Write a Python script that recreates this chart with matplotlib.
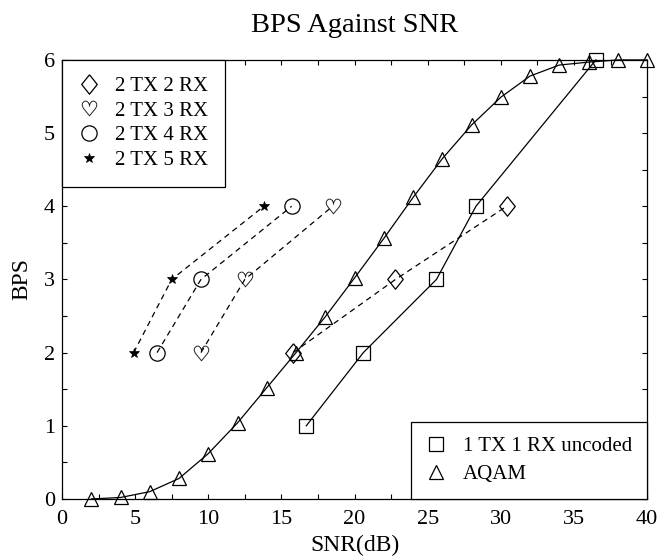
import numpy as np
import matplotlib
matplotlib.use('Agg')
import matplotlib.pyplot as plt
from matplotlib.lines import Line2D
from matplotlib.ticker import MultipleLocator

plt.rcParams['font.family'] = 'Liberation Serif'
plt.rcParams['mathtext.fontset'] = 'dejavusans'

# ---- data ----
aqam_snr = [2, 4, 6, 8, 10, 12, 14, 16, 18, 20, 22, 24, 26, 28, 30, 32, 34, 36, 38, 40]
aqam_bps = [0.0, 0.02, 0.1, 0.28, 0.62, 1.04, 1.52, 2.0, 2.49, 3.02, 3.56, 4.12,
            4.65, 5.11, 5.49, 5.78, 5.93, 5.97, 6.0, 6.0]

unc_snr = [16.7, 20.6, 25.6, 28.3, 36.5]
unc_bps = [1, 2, 3, 4, 6]

rx2_snr = [15.8, 22.8, 30.4]
rx3_snr = [9.5, 12.5, 18.5]
rx4_snr = [6.5, 9.5, 15.7]
rx5_snr = [4.9, 7.5, 13.8]
coded_bps = [2, 3, 4]

# ---- plot ----
fig = plt.figure(figsize=(6.63, 5.6), dpi=100)
ax = fig.add_axes([0.0935, 0.109, 0.8825, 0.784])

diamond = [(0, 1), (0.8, 0), (0, -1), (-0.8, 0), (0, 1)]
dash = (0, (4.5, 3.5))
lw = 0.9

ax.plot(aqam_snr, aqam_bps, '-', color='k', lw=lw, marker='^', ms=10,
        mfc='none', mec='k', mew=lw, clip_on=False, zorder=3)
ax.plot(unc_snr, unc_bps, '-', color='k', lw=lw, marker='s', ms=10,
        mfc='none', mec='k', mew=lw, clip_on=False, zorder=3)
ax.plot(rx2_snr, coded_bps, linestyle=dash, color='k', lw=lw, marker=diamond,
        ms=14, mfc='none', mec='k', mew=lw)
ax.plot(rx3_snr, coded_bps, linestyle=dash, color='k', lw=lw,
        marker=r'$\heartsuit$', ms=11, mfc='none', mec='k', mew=0.3)
ax.plot(rx4_snr, coded_bps, linestyle=dash, color='k', lw=lw, marker='o',
        ms=11, mfc='none', mec='k', mew=lw)
ax.plot(rx5_snr, coded_bps, linestyle=dash, color='k', lw=lw, marker='*',
        ms=7, mfc='k', mec='k', mew=0.5)

ax.set_xlim(0, 40)
ax.set_ylim(0, 6)
ax.xaxis.set_major_locator(MultipleLocator(5))
ax.xaxis.set_minor_locator(MultipleLocator(2.5))
ax.yaxis.set_major_locator(MultipleLocator(1))
ax.yaxis.set_minor_locator(MultipleLocator(0.5))
ax.tick_params(which='both', direction='in', top=True, right=True,
               length=3.6, width=0.8, labelsize=16)
ax.tick_params(axis='x', pad=8)
ax.tick_params(axis='y', pad=5)
for s in ax.spines.values():
    s.set_linewidth(0.9)

ax.set_xlabel('SNR(dB)', fontsize=17, labelpad=4)
ax.set_ylabel('BPS', fontsize=17, labelpad=8)
ax.set_title('BPS Against SNR', fontsize=20.5, pad=20)

# legends: markers only
h1 = [Line2D([], [], ls='none', marker=diamond, ms=14, mfc='none', mec='k', mew=lw),
      Line2D([], [], ls='none', marker=r'$\heartsuit$', ms=11, mfc='none', mec='k', mew=0.3),
      Line2D([], [], ls='none', marker='o', ms=11, mfc='none', mec='k', mew=lw),
      Line2D([], [], ls='none', marker='*', ms=7, mfc='k', mec='k', mew=0.5)]
leg1 = ax.legend(h1, ['2 TX 2 RX', '2 TX 3 RX', '2 TX 4 RX', '2 TX 5 RX'],
                 loc='upper left', borderaxespad=0, fontsize=15, fancybox=False,
                 edgecolor='k', framealpha=1, handlelength=1.0, handletextpad=0.75,
                 labelspacing=0.24, borderpad=0.8)
leg1.get_frame().set_linewidth(0.9)
ax.add_artist(leg1)

h2 = [Line2D([], [], ls='none', marker='s', ms=10, mfc='none', mec='k', mew=lw),
      Line2D([], [], ls='none', marker='^', ms=10, mfc='none', mec='k', mew=lw)]
leg2 = ax.legend(h2, ['1 TX 1 RX uncoded', 'AQAM'], loc='lower right',
                 borderaxespad=0, fontsize=15, fancybox=False, edgecolor='k',
                 framealpha=1, handlelength=1.0, handletextpad=0.8,
                 labelspacing=0.4, borderpad=0.7)
leg2.get_frame().set_linewidth(0.9)

fig.savefig('out.png', dpi=100)
